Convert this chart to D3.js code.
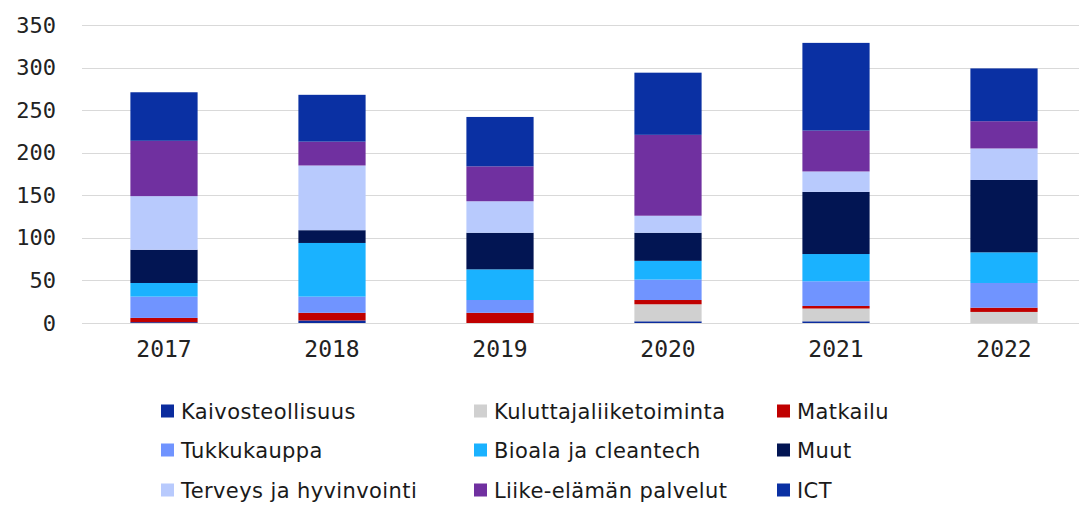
<!DOCTYPE html>
<html>
<head>
<meta charset="utf-8">
<script src="https://cdn.jsdelivr.net/npm/d3@7"></script>
<style>
  html, body { margin: 0; padding: 0; background: #fff; }
  svg { display: block; }
</style>
</head>
<body>
<div id="chart"></div>
<script>
// Years on the x axis
const years = ["2017", "2018", "2019", "2020", "2021", "2022"];

// Series, bottom of stack first (matches legend order)
const series = [
    "Kaivosteollisuus", "Kuluttajaliiketoiminta", "Matkailu",
    "Tukkukauppa", "Bioala ja cleantech", "Muut",
    "Terveys ja hyvinvointi", "Liike-elämän palvelut", "ICT"
];
const kaivosteollisuus = [1, 3, 0, 2, 2, 0];
const kuluttaja        = [0, 0, 0, 20, 15, 13];
const matkailu         = [5, 9, 12, 5, 3, 5];
const tukkukauppa      = [25, 19, 15, 24, 29, 29];
const bioala           = [16, 63, 36, 22, 32, 36];
const muut             = [39, 15, 43, 33, 73, 85];
const terveys          = [63, 76, 37, 20, 24, 37];
const liike            = [65, 28, 41, 95, 48, 32];
const ict              = [57, 55, 58, 73, 103, 62];

const seriesColors = [
    "#0b2c9e", "#d0d0d0", "#c00000",
    "#7094ff", "#1ab2ff", "#021553",
    "#b8cafd", "#7030a0", "#0a30a3"
];
const yTicks = [0, 50, 100, 150, 200, 250, 300, 350];

const allValues = [kaivosteollisuus, kuluttaja, matkailu, tukkukauppa, bioala, muut, terveys, liike, ict];
const table = years.map((y, i) => {
    const row = { year: y };
    series.forEach((s, k) => { row[s] = allValues[k][i]; });
    return row;
});

const width = 1079, height = 513;
const svg = d3.select("#chart").append("svg")
    .attr("width", width)
    .attr("height", height);

const x = d3.scaleBand()
    .domain(years)
    .range([80, 1088])
    .paddingInner(0.6)
    .paddingOuter(0.3);

const y = d3.scaleLinear()
    .domain([0, 350])
    .range([323, 25]);

const color = d3.scaleOrdinal().domain(series).range(seriesColors);

// Gridlines
svg.append("g")
    .selectAll("line")
    .data(yTicks)
    .enter().append("line")
    .attr("x1", 82)
    .attr("x2", width)
    .attr("y1", d => Math.round(y(d)) + 0.5)
    .attr("y2", d => Math.round(y(d)) + 0.5)
    .attr("stroke", "#d9d9d9")
    .attr("stroke-width", 1);

// Y axis labels
const yAxis = d3.axisLeft(y).tickValues(yTicks).tickSize(0).tickPadding(0);
svg.append("g")
    .attr("transform", "translate(56,0)")
    .call(yAxis)
    .call(g => g.select(".domain").remove())
    .selectAll("text")
    .attr("font-family", "'DejaVu Sans Mono', monospace")
    .attr("font-size", "22px")
    .attr("fill", "#222");

// Stacked bars
const stack = d3.stack().keys(series);
const layers = stack(table);

svg.append("g")
    .selectAll("g")
    .data(layers)
    .enter().append("g")
    .attr("fill", d => color(d.key))
    .selectAll("rect")
    .data(d => d)
    .enter().append("rect")
    .attr("x", d => x(d.data.year))
    .attr("width", x.bandwidth())
    .attr("y", d => y(d[1]))
    .attr("height", d => Math.max(0, y(d[0]) - y(d[1])));

// X axis labels
const xAxis = d3.axisBottom(x).tickSize(0).tickPadding(0);
svg.append("g")
    .attr("transform", "translate(0,336)")
    .call(xAxis)
    .call(g => g.select(".domain").remove())
    .selectAll("text")
    .attr("dy", "0.9em")
    .attr("font-family", "'DejaVu Sans Mono', monospace")
    .attr("font-size", "23px")
    .attr("fill", "#222");

// Legend: 3 columns, 3 rows, filled row by row
const legendCols = [161, 474, 777];
const legendRows = [411, 450, 490];
const legend = svg.append("g")
    .selectAll("g")
    .data(series)
    .enter().append("g")
    .attr("transform", (d, i) => `translate(${legendCols[i % 3]},${legendRows[Math.floor(i / 3)]})`);

legend.append("rect")
    .attr("x", 0)
    .attr("y", -6.5)
    .attr("width", 13)
    .attr("height", 13)
    .attr("fill", d => color(d));

legend.append("text")
    .attr("x", 20)
    .attr("dy", "0.36em")
    .attr("font-family", "'DejaVu Sans', sans-serif")
    .attr("font-size", "21px")
    .attr("letter-spacing", "0.4px")
    .attr("fill", "#1a1a1a")
    .text(d => d);
</script>
</body>
</html>
